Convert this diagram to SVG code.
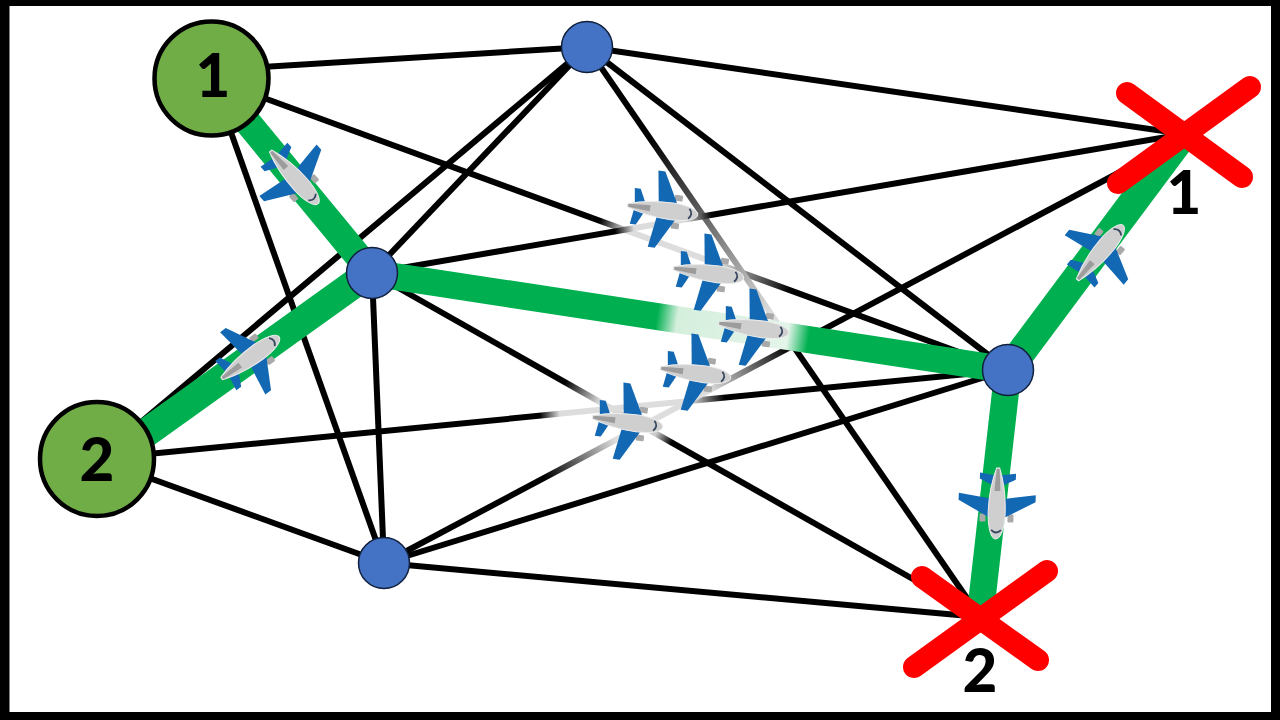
<svg xmlns="http://www.w3.org/2000/svg" xmlns:xlink="http://www.w3.org/1999/xlink" width="1280" height="720" viewBox="0 0 1280 720">
<style>
.l{stroke:#000;stroke-width:6;fill:none;stroke-linecap:butt}
.g{stroke:#00b050;stroke-width:27;fill:none}
.gw{stroke:#00b050;stroke-width:29;fill:none}
.start{fill:#70ad47;stroke:#000;stroke-width:4.5}
.hub{fill:#4472c4;stroke:#10203c;stroke-width:1.5}
.x{stroke:#ff0000;stroke-width:22;stroke-linecap:round;fill:none}
.t{font-family:"Lato","Liberation Sans",sans-serif;font-weight:900;font-size:60px;fill:#000;text-anchor:middle}
.wing{fill:#1268b3}
.eng{fill:#a9a9a9}
</style>
<defs>
<linearGradient id="f1" gradientUnits="userSpaceOnUse" x1="587" y1="47" x2="980" y2="617"><stop offset=".16" stop-color="#000"/><stop offset=".466" stop-color="#ddd"/><stop offset=".517" stop-color="#ddd"/><stop offset=".53" stop-color="#000"/></linearGradient>
<linearGradient id="f2" gradientUnits="userSpaceOnUse" x1="212" y1="79" x2="1008" y2="370"><stop offset=".487" stop-color="#000"/><stop offset=".519" stop-color="#ddd"/><stop offset=".638" stop-color="#ddd"/><stop offset=".67" stop-color="#888"/><stop offset=".726" stop-color="#000"/></linearGradient>
<linearGradient id="f3" gradientUnits="userSpaceOnUse" x1="372" y1="273" x2="1184" y2="134"><stop offset=".299" stop-color="#000"/><stop offset=".323" stop-color="#ddd"/><stop offset=".385" stop-color="#ddd"/><stop offset=".419" stop-color="#000"/></linearGradient>
<linearGradient id="f4" gradientUnits="userSpaceOnUse" x1="372" y1="273" x2="980" y2="617"><stop offset=".317" stop-color="#000"/><stop offset=".375" stop-color="#ddd"/><stop offset=".467" stop-color="#ccc"/><stop offset=".493" stop-color="#000"/></linearGradient>
<linearGradient id="f5" gradientUnits="userSpaceOnUse" x1="97" y1="459" x2="1008" y2="370"><stop offset=".486" stop-color="#000"/><stop offset=".508" stop-color="#ddd"/><stop offset=".651" stop-color="#ddd"/><stop offset=".689" stop-color="#000"/></linearGradient>
<linearGradient id="f6" gradientUnits="userSpaceOnUse" x1="384" y1="563" x2="1184" y2="138"><stop offset=".201" stop-color="#000"/><stop offset=".289" stop-color="#ddd"/><stop offset=".4075" stop-color="#ddd"/><stop offset=".5075" stop-color="#000"/></linearGradient>
<linearGradient id="fg" gradientUnits="userSpaceOnUse" x1="372" y1="273" x2="1008" y2="370"><stop offset=".448" stop-color="#00b050"/><stop offset=".48" stop-color="#d5efdd"/><stop offset=".653" stop-color="#e4f5ea"/><stop offset=".686" stop-color="#00b050"/></linearGradient>
<g id="plane">
<rect class="eng" x="11" y="-17" width="8" height="6" rx="1"/>
<rect class="eng" x="11" y="11" width="8" height="6" rx="1"/>
<polygon class="wing" points="-9,-38.5 -2,-38.5 16,-5 -4,-5"/>
<polygon class="wing" points="-9,38.5 -2,38.5 16,5 -4,5"/>
<polygon class="wing" points="-30,-18 -24,-18 -17,-4 -28,-4"/>
<polygon class="wing" points="-30,18 -24,18 -17,4 -28,4"/>
<path d="M-35,-1.5 C-22,-6 -8,-8.5 10,-8.5 C24,-8.5 36,-5 36,0 C36,5 24,8.5 10,8.5 C-8,8.5 -22,6 -35,1.5 Z" fill="#cfcfcf" stroke="#ececec" stroke-width="1"/>
<path d="M-34,-1.5 L-12,-3 L-12,3 L-34,1.5 Z" fill="#9c9c9c"/>
<path d="M27,-5 Q32,0 27,5" fill="none" stroke="#37465f" stroke-width="1.8"/>
</g>
</defs>
<rect id="frame" x="0" y="0" width="1280" height="720" fill="#000"/>
<rect id="background" x="9.5" y="6" width="1261.5" height="706" fill="#fff"/>
<g id="connectors">
<line class="l" x1="212" y1="70" x2="587" y2="47"/>
<line class="l" x1="212" y1="79" x2="384" y2="563"/>
<line class="l" x1="212" y1="79" x2="1008" y2="370" style="stroke:url(#f2)"/>
<line class="l" x1="587" y1="47" x2="372" y2="273"/>
<line class="l" x1="587" y1="47" x2="97" y2="459"/>
<line class="l" x1="587" y1="47" x2="1184" y2="134"/>
<line class="l" x1="587" y1="47" x2="1008" y2="370"/>
<line class="l" x1="587" y1="47" x2="980" y2="617" style="stroke:url(#f1)"/>
<line class="l" x1="372" y1="273" x2="1184" y2="134" style="stroke:url(#f3)"/>
<line class="l" x1="372" y1="273" x2="384" y2="563"/>
<line class="l" x1="372" y1="273" x2="980" y2="617" style="stroke:url(#f4)"/>
<line class="l" x1="97" y1="459" x2="1008" y2="370" style="stroke:url(#f5)"/>
<line class="l" x1="97" y1="459" x2="384" y2="563"/>
<line class="l" x1="384" y1="563" x2="1184" y2="138" style="stroke:url(#f6)"/>
<line class="l" x1="384" y1="563" x2="1008" y2="370"/>
<line class="l" x1="384" y1="563" x2="980" y2="617"/>
<line class="g" x1="212" y1="79" x2="372" y2="273"/>
<line class="gw" x1="97" y1="468" x2="372" y2="271"/>
<line class="g" x1="372" y1="273" x2="1008" y2="370" style="stroke:url(#fg)"/>
<line class="gw" x1="1008" y1="370" x2="1184" y2="134"/>
<line class="g" x1="1008" y1="370" x2="980" y2="617"/>
</g>
<g id="node-start-1"><circle class="start" cx="211.5" cy="78.5" r="57"/><text class="t" x="213" y="97">1</text></g>
<g id="node-start-2"><circle class="start" cx="97" cy="459" r="57"/><text class="t" x="97" y="481">2</text></g>
<g id="node-top"><circle class="hub" cx="587" cy="47" r="25.5"/></g>
<g id="node-left"><circle class="hub" cx="372" cy="273" r="25.5"/></g>
<g id="node-right"><circle class="hub" cx="1008" cy="370" r="25.5"/></g>
<g id="node-bottom"><circle class="hub" cx="384" cy="563" r="25.5"/></g>
<g id="node-dest-1"><path class="x" d="M1127,93 L1242,177 M1250,87 L1118,183"/><text class="t" x="1184" y="214">1</text></g>
<g id="node-dest-2"><path class="x" d="M922,577 L1038,660 M1047,571 L914,667"/><text class="t" x="980" y="692">2</text></g>
<g id="planes">
<use href="#plane" transform="translate(662,210) rotate(8)"/>
<use href="#plane" transform="translate(708,273) rotate(8)"/>
<use href="#plane" transform="translate(753,328) rotate(8)"/>
<use href="#plane" transform="translate(695,373) rotate(8)"/>
<use href="#plane" transform="translate(627,422) rotate(8)"/>
<use href="#plane" transform="translate(294,177) rotate(48)"/>
<use href="#plane" transform="translate(250,358) rotate(-36)"/>
<use href="#plane" transform="translate(1100,253) rotate(-50)"/>
<use href="#plane" transform="translate(997,503) rotate(92)"/>
</g>
</svg>
